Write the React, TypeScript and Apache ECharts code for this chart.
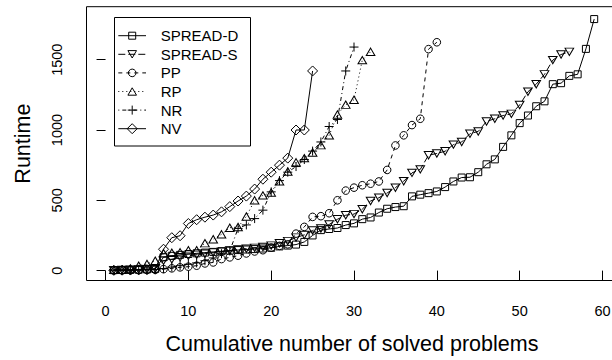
import React, { useEffect, useRef } from "react";
import * as echarts from "echarts";

const seriesNames = ["SPREAD-D", "SPREAD-S", "PP", "RP", "NR", "NV"];

const spreadD = [3, 4, 5, 6, 8, 12,
  95, 105, 112, 118, 123, 128, 133, 138, 142, 146, 150, 153,
  157, 162, 172, 178, 185, 204, 250, 288, 296, 303, 324, 336, 366, 378, 413, 440, 452, 458,
  528, 540, 551, 563, 594, 634, 662, 664, 700, 756, 791, 880, 962, 1049, 1103, 1169, 1204, 1326, 1333, 1385, 1396, 1577, 1789];

const spreadS = [4, 5, 6, 8, 10, 14,
  70, 80, 95, 105, 112, 120, 128, 135, 143, 150, 156, 162, 168, 178, 195, 210,
  235, 254, 286, 300, 328, 365, 394, 402, 437, 495, 518, 552, 590, 636, 695, 720,
  821, 833, 849, 896, 915, 974, 990, 1061, 1080, 1103, 1115, 1178, 1272, 1326, 1396, 1497, 1537, 1556];

const pp = [2, 2, 3, 4, 5, 6, 10, 16, 23, 28, 35, 51, 58, 82, 94, 106, 122, 136, 145, 164,
  176, 187, 263, 311, 382, 387, 408, 500, 569, 590, 607, 618, 634, 716, 890, 962, 1035, 1080, 1575, 1624];

const rp = [5, 6, 15, 35, 47, 70, 124, 127, 130, 145, 145, 195, 223, 258, 305, 310, 385, 500, 535, 555,
  635, 705, 770, 800, 840, 892, 962, 1110, 1180, 1215, 1497, 1556];

const nr = [3, 3, 4, 5, 6, 8, 15, 25, 35, 45, 55, 70, 90, 120, 140, 300, 325, 370, 430, 560,
  640, 700, 740, 790, 850, 915, 1025, 1075, 1420, 1590];

const nv = [2, 3, 4, 5, 7, 10, 152, 234, 248, 335, 362, 380, 395, 418, 455, 495, 530, 580, 650, 700,
  750, 800, 1000, 1000, 1420];

const seriesValues = [spreadD, spreadS, pp, rp, nr, nv];

const xTicks = [0, 10, 20, 30, 40, 50, 60];
const yTicks = [0, 500, 1000, 1500];
const xTitle = "Cumulative number of solved problems";
const yTitle = "Runtime";

const FONT = "'Liberation Sans', Arial, Helvetica, sans-serif";
const DOWN_TRI = "path://M0,0L10,0L5,8.66Z";
const PLUS = "path://M5,0L5,10M0,5L10,5";

const looks: any[] = [
  { symbol: "rect", size: 7, dash: "solid" },
  { symbol: DOWN_TRI, size: [8.6, 7.4], dash: [7, 3] },
  { symbol: "circle", size: 7.6, dash: [4, 4] },
  { symbol: "triangle", size: [8.6, 7.4], dash: [1, 3] },
  { symbol: PLUS, size: 9, dash: [1, 3, 4, 3] },
  { symbol: "diamond", size: 10, dash: "solid" },
];

function legendSymbol(i: number, cx: number, cy: number): any {
  const st = { fill: "none", stroke: "#000", lineWidth: 1 };
  switch (i) {
    case 0:
      return { type: "rect", shape: { x: cx - 3.5, y: cy - 3.5, width: 7, height: 7 }, style: st, z: 101 };
    case 1:
      return { type: "polygon", shape: { points: [[cx - 4.3, cy - 3.7], [cx + 4.3, cy - 3.7], [cx, cy + 3.7]] }, style: st, z: 101 };
    case 2:
      return { type: "circle", shape: { cx, cy, r: 3.8 }, style: st, z: 101 };
    case 3:
      return { type: "polygon", shape: { points: [[cx - 4.3, cy + 3.7], [cx + 4.3, cy + 3.7], [cx, cy - 3.7]] }, style: st, z: 101 };
    case 4:
      return {
        type: "group", z: 101, children: [
          { type: "line", shape: { x1: cx - 4.5, y1: cy, x2: cx + 4.5, y2: cy }, style: st, z: 101 },
          { type: "line", shape: { x1: cx, y1: cy - 4.5, x2: cx, y2: cy + 4.5 }, style: st, z: 101 },
        ],
      };
    default:
      return { type: "polygon", shape: { points: [[cx, cy - 5], [cx + 5, cy], [cx, cy + 5], [cx - 5, cy]] }, style: st, z: 101 };
  }
}

export default function App() {
  const ref = useRef<HTMLDivElement>(null);
  useEffect(() => {
    if (!ref.current) return;
    const chart = echarts.init(ref.current, null, { renderer: "svg" });

    const graphics: any[] = [
      { type: "rect", shape: { x: 114.5, y: 17.5, width: 136, height: 128.5 }, style: { fill: "#fff", stroke: "#000", lineWidth: 1 }, z: 100 },
    ];
    seriesNames.forEach((name, i) => {
      const cy = 35.7 + i * 18.6;
      const d = looks[i].dash;
      graphics.push({
        type: "line",
        shape: { x1: 118.3, y1: cy, x2: 146, y2: cy },
        style: { stroke: "#000", lineWidth: 1, lineDash: Array.isArray(d) ? d : null },
        z: 101,
      });
      graphics.push(legendSymbol(i, 132.2, cy));
      graphics.push({
        type: "text",
        x: 160.7,
        y: cy,
        style: { text: name, fontSize: 15, fontFamily: FONT, fill: "#000", align: "left", verticalAlign: "middle" },
        z: 101,
      });
    });

    chart.setOption({
      animation: false,
      backgroundColor: "#fff",
      grid: { left: 86.5, top: 6.7, width: 540, height: 276.6, show: true, borderColor: "#000", borderWidth: 1, backgroundColor: "transparent" },
      xAxis: {
        type: "value",
        min: -2.3,
        max: 62.9,
        axisLine: { show: false },
        splitLine: { show: false },
        axisTick: { show: true, length: 10, lineStyle: { color: "#000", width: 1 }, customValues: xTicks },
        axisLabel: { customValues: xTicks, formatter: (v: number) => String(v), fontSize: 14.5, fontFamily: FONT, color: "#000", margin: 30, verticalAlign: "middle" },
        name: xTitle,
        nameLocation: "middle",
        nameGap: 52.5,
        nameTextStyle: { fontSize: 21.5, fontFamily: FONT, color: "#000", padding: [0, 9, 0, 0] },
      },
      yAxis: {
        type: "value",
        min: -70.4,
        max: 1877,
        axisLine: { show: false },
        splitLine: { show: false },
        axisTick: { show: true, length: 9, lineStyle: { color: "#000", width: 1 }, customValues: yTicks },
        axisLabel: { customValues: yTicks, formatter: (v: number) => String(v), fontSize: 14.5, fontFamily: FONT, color: "#000", rotate: 90, margin: 29.5, align: "center", verticalAlign: "middle" },
        name: yTitle,
        nameLocation: "middle",
        nameGap: 53,
        nameTextStyle: { fontSize: 21.5, fontFamily: FONT, color: "#000" },
      },
      graphic: graphics,
      series: seriesNames.map((name, i) => ({
        name,
        type: "line",
        silent: true,
        data: seriesValues[i].map((v, j) => [j + 1, v]),
        symbol: looks[i].symbol,
        symbolSize: looks[i].size,
        showAllSymbol: true,
        lineStyle: { color: "#000", width: 1, type: looks[i].dash },
        itemStyle: { color: "rgba(0,0,0,0)", borderColor: "#000", borderWidth: 1 },
        emphasis: { disabled: true },
        z: 2 + i,
      })),
    });
    return () => chart.dispose();
  }, []);

  return (
    <div style={{ position: "fixed", left: 0, top: 0, width: 612, height: 360, overflow: "hidden", background: "#fff" }}>
      <div ref={ref} style={{ width: 640, height: 360 }} />
    </div>
  );
}
